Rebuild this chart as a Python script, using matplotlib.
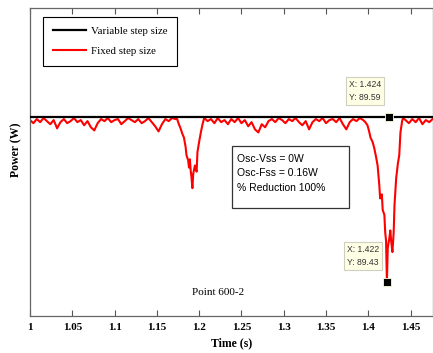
import matplotlib
matplotlib.use("Agg")
import matplotlib.pyplot as plt
from matplotlib.patches import Rectangle

# time axis (s) and power (W)
t_fixed = [1.000, 1.004, 1.008, 1.012, 1.016, 1.020, 1.024, 1.028, 1.032, 1.036,
           1.040, 1.044, 1.048, 1.052, 1.056, 1.060, 1.064, 1.068, 1.072, 1.076,
           1.080, 1.084, 1.088, 1.092, 1.096, 1.100, 1.104, 1.108, 1.112, 1.116,
           1.120, 1.124, 1.128, 1.132, 1.136, 1.140, 1.144, 1.148, 1.152, 1.156,
           1.160, 1.164, 1.168, 1.172,
           1.174, 1.176, 1.178, 1.180, 1.182, 1.184, 1.185, 1.187, 1.188, 1.189,
           1.190, 1.191, 1.192, 1.193, 1.195, 1.196, 1.197, 1.198, 1.200, 1.202,
           1.204, 1.206,
           1.210, 1.214, 1.218, 1.222, 1.226, 1.230, 1.234, 1.238, 1.242, 1.246,
           1.250, 1.254, 1.258, 1.262, 1.266, 1.270, 1.274, 1.278, 1.282, 1.286,
           1.290, 1.294, 1.298, 1.302, 1.306, 1.310, 1.314, 1.318, 1.322, 1.326,
           1.330, 1.334, 1.338, 1.342, 1.346, 1.350, 1.354, 1.358, 1.362, 1.366,
           1.370, 1.374, 1.378, 1.382, 1.386, 1.390, 1.394,
           1.3965, 1.399, 1.401, 1.4026, 1.405, 1.407, 1.409, 1.411, 1.413, 1.414,
           1.416, 1.417, 1.419, 1.420, 1.421, 1.422, 1.423, 1.425, 1.426, 1.427,
           1.4285, 1.430, 1.431, 1.433, 1.435, 1.4366, 1.438, 1.440, 1.441,
           1.444, 1.448, 1.452, 1.456, 1.460, 1.464, 1.468, 1.472, 1.476]
p_fixed = [89.587, 89.584, 89.588, 89.585, 89.589, 89.586, 89.583, 89.587, 89.579, 89.585,
           89.588, 89.584, 89.586, 89.589, 89.585, 89.587, 89.582, 89.586, 89.580, 89.577,
           89.584, 89.588, 89.586, 89.589, 89.585, 89.587, 89.588, 89.583, 89.586, 89.589,
           89.587, 89.585, 89.588, 89.584, 89.586, 89.589, 89.585, 89.581, 89.576, 89.583,
           89.588, 89.586, 89.589, 89.588,
           89.588, 89.583, 89.579, 89.574, 89.570, 89.561, 89.553, 89.548, 89.541, 89.549,
           89.538, 89.531, 89.521, 89.535, 89.543, 89.540, 89.537, 89.556, 89.566, 89.575,
           89.583, 89.589,
           89.586, 89.588, 89.584, 89.589, 89.585, 89.587, 89.583, 89.588, 89.585, 89.589,
           89.584, 89.587, 89.581, 89.585, 89.578, 89.575, 89.583, 89.580, 89.586, 89.588,
           89.585, 89.589, 89.587, 89.584, 89.588, 89.586, 89.589, 89.585, 89.582, 89.586,
           89.578, 89.585, 89.588, 89.586, 89.589, 89.584, 89.587, 89.588, 89.585, 89.589,
           89.583, 89.578, 89.585, 89.588, 89.586, 89.589, 89.587,
           89.585, 89.582, 89.576, 89.570, 89.566, 89.560, 89.552, 89.543, 89.524, 89.511,
           89.515, 89.500, 89.495, 89.478, 89.470, 89.430, 89.463, 89.473, 89.480, 89.470,
           89.459, 89.478, 89.505, 89.531, 89.545, 89.553, 89.575, 89.586, 89.589,
           89.587, 89.584, 89.588, 89.585, 89.589, 89.583, 89.587, 89.585, 89.588]

t_var = [1.0, 1.48]
p_var = [89.59, 89.59]

tips_x = [1.424, 1.422]
tips_y = [89.59, 89.43]

xticks = [1.0, 1.05, 1.1, 1.15, 1.2, 1.25, 1.3, 1.35, 1.4, 1.45]
xtick_labels = ["1", "1.05", "1.1", "1.15", "1.2", "1.25", "1.3", "1.35", "1.4", "1.45"]

serif = "Liberation Serif"
sans = "Liberation Sans"

fig = plt.figure(figsize=(4.33, 3.53), dpi=100)
ax = fig.add_axes([30 / 433, 1 - 316 / 353, 1 - 30 / 433, 308 / 353])

ax.plot(t_var, p_var, color="black", lw=1.6, label="Variable step size", zorder=3)
ax.plot(t_fixed, p_fixed, color="red", lw=1.5, label="Fixed step size", zorder=2)

ax.set_xlim(1.0, 1.4765)
ax.set_ylim(89.397, 89.6957)

ax.set_xticks(xticks)
ax.set_xticklabels(xtick_labels, fontfamily=serif, fontweight="bold", fontsize=8)
ax.set_yticks([])
ax.tick_params(axis="x", direction="in", top=True, length=4, width=0.8,
               color="#555555", pad=5)
for s in ax.spines.values():
    s.set_color("#666666")
    s.set_linewidth(0.9)

ax.set_xlabel("Time (s)", fontfamily=serif, fontweight="bold", fontsize=8.5, labelpad=3.5)
ax.set_ylabel("Power (W)", fontfamily=serif, fontweight="bold", fontsize=8.5)
ax.yaxis.set_label_coords(-0.018, 0.54)

leg = ax.legend(loc="upper left", bbox_to_anchor=(0.032, 0.971), fancybox=False,
                edgecolor="black", framealpha=1, prop={"family": serif, "size": 7.8},
                handlelength=3.05, handletextpad=0.46, borderpad=0.9,
                labelspacing=0.95, borderaxespad=0)
leg.get_frame().set_linewidth(0.8)

# info box
ax.add_patch(Rectangle((0.501, 0.351), 0.291, 0.201, transform=ax.transAxes,
                       facecolor="white", edgecolor="#333333", lw=0.9, zorder=4))
info = ["Osc-Vss = 0W", "Osc-Fss = 0.16W", "% Reduction 100%"]
for i, line in enumerate(info):
    ax.text(0.514, 0.510 - i * 0.047, line, transform=ax.transAxes, fontfamily=sans,
            fontsize=7.5, va="center", ha="left", zorder=5)

# data tips
ax.plot(tips_x, tips_y, "s", color="black", mec="#ffffcc", mew=0.6, ms=6,
        zorder=6, clip_on=False)
tip_pos = [(0.792, 0.765), (0.787, 0.229)]
for (tx, ty), xv, yv in zip(tip_pos, tips_x, tips_y):
    ax.text(tx, ty, "X: %.3f\nY: %.2f" % (xv, yv), transform=ax.transAxes,
            fontfamily=sans, fontsize=6.2, color="#333333", va="top", ha="left",
            linespacing=1.45, zorder=6,
            bbox=dict(boxstyle="square,pad=0.35", facecolor="#ffffe6",
                      edgecolor="#d0d0c0", lw=0.8))

ax.text(0.466, 0.075, "Point 600-2", transform=ax.transAxes, fontfamily=serif,
        fontsize=8, ha="center", va="center")

fig.savefig("out.png", dpi=100)
